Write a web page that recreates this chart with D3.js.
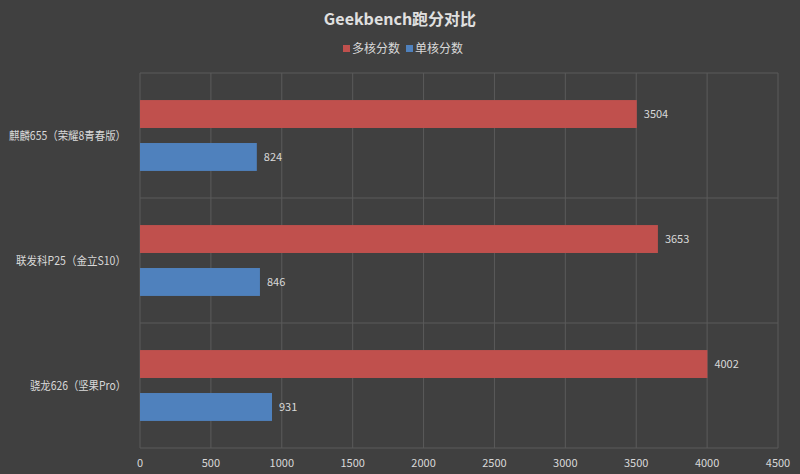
<!DOCTYPE html><html><head><meta charset="utf-8"><script src="https://cdn.jsdelivr.net/npm/d3@7"></script>
<style>body{margin:0;background:#404040}</style></head><body><svg width="800" height="474"></svg><script>
const categories=["麒麟655（荣耀8青春版）","联发科P25（金立S10）","骁龙626（坚果Pro）"];
const seriesNames=["多核分数","单核分数"];
const multiCore=[3504,3653,4002];
const singleCore=[824,846,931];
const ticks=[0,500,1000,1500,2000,2500,3000,3500,4000,4500];
const labelWidths=[117,110,96];
const colors=["#c0504d","#4f81bd"];
const font="'Microsoft YaHei','Noto Sans CJK SC',sans-serif";
const svg=d3.select("svg").style("font-family",font);
svg.append("rect").attr("width",800).attr("height",474).attr("fill","#404040");
const L=140,R=778,T=73,B=448;
const x=d3.scaleLinear().domain([0,4500]).range([L,R]);
const y=d3.scaleBand().domain(categories).range([T,B]);
const g=svg.append("g");
ticks.forEach(t=>g.append("line").attr("x1",x(t)).attr("x2",x(t)).attr("y1",T).attr("y2",B).attr("stroke","#5a5a5a"));
[T,...categories.map(c=>y(c)+y.bandwidth())].forEach(v=>g.append("line").attr("x1",L).attr("x2",R).attr("y1",v).attr("y2",v).attr("stroke","#5a5a5a"));
const inner=d3.scaleBand().domain([0,1]).range([0,y.bandwidth()]).paddingInner(0.35).paddingOuter(0.63);
const vals=[multiCore,singleCore];
vals.forEach((arr,s)=>{
 arr.forEach((v,i)=>{
  const yy=y(categories[i])+inner(s);
  g.append("rect").attr("x",x(0)).attr("y",yy).attr("width",x(v)-x(0)).attr("height",inner.bandwidth()).attr("fill",colors[s]);
  g.append("text").attr("x",x(v)+7).attr("y",yy+inner.bandwidth()/2+4).attr("fill","#d9d9d9").attr("font-size",11).text(v);
 });
});
categories.forEach((c,i)=>g.append("text").attr("x",126).attr("y",y(c)+y.bandwidth()/2+4).attr("text-anchor","end").attr("fill","#d9d9d9").attr("font-size",11.5)
 .attr("textLength",labelWidths[i]).attr("lengthAdjust","spacingAndGlyphs").text(c));
ticks.forEach(t=>g.append("text").attr("x",x(t)).attr("y",467).attr("text-anchor","middle").attr("fill","#d9d9d9").attr("font-size",11).text(t));
svg.append("text").attr("x",400).attr("y",25).attr("text-anchor","middle").attr("fill","#e0e0e0").attr("font-size",16).attr("font-weight","bold").text("Geekbench跑分对比");
const lg=svg.append("g");
const lx=[343,406];
seriesNames.forEach((n,i)=>{
 lg.append("rect").attr("x",lx[i]).attr("y",45).attr("width",7).attr("height",7).attr("fill",colors[i]);
 lg.append("text").attr("x",lx[i]+9).attr("y",53).attr("fill","#d9d9d9").attr("font-size",12).text(n);
});
</script></body></html>
